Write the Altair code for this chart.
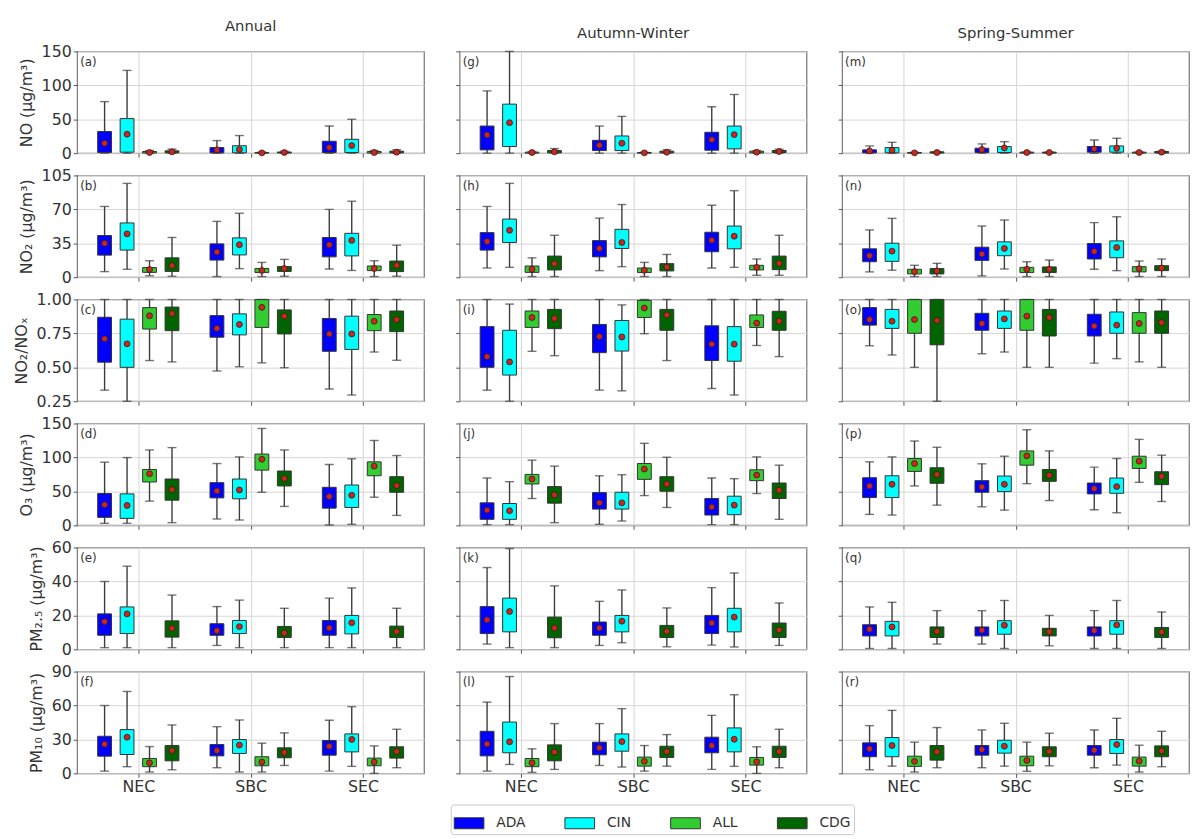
import altair as alt
import pandas as pd

FONT = "DejaVu Sans"

seasons = ["Annual", "Autumn-Winter", "Spring-Summer"]
regions = ["NEC", "SBC", "SEC"]
stations = ["ADA", "CIN", "ALL", "CDG"]
station_colors = ["#0000ff", "#00ffff", "#32cd32", "#006400"]
station_offsets = [-0.3, -0.1, 0.1, 0.3]

y_titles = ["NO (µg/m³)", "NO₂ (µg/m³)", "NO₂/NOₓ", "O₃ (µg/m³)", "PM₂.₅ (µg/m³)", "PM₁₀ (µg/m³)"]
y_domains = [[0, 150], [0, 105], [0.25, 1.0], [0, 150], [0, 60], [0, 90]]
y_ticks = [[0, 50, 100, 150], [0, 35, 70, 105], [0.25, 0.5, 0.75, 1.0],
           [0, 50, 100, 150], [0, 20, 40, 60], [0, 30, 60, 90]]
y_formats = ["d", "d", ".2f", "d", "d", "d"]
panel_letters = "abcdefghijklmnopqr"

# each entry: (whisker low, Q1, Q3, whisker high, mean); order NEC ADA,CIN,ALL,CDG, SBC ..., SEC ...
a_no = [
    (0, 1, 32, 76, 14.6), (0, 1.5, 51, 122, 28), (0, 0.3, 2.5, 4, 1.0), (0, 0.5, 3.5, 6, 2.0),
    (0, 0.5, 8.3, 18.6, 5.0), (0, 0.5, 11, 26, 5.4), (0, 0.1, 1, 1.8, 0.5), (0, 0.3, 1.8, 3, 1.0),
    (0, 1, 17.6, 40, 8.3), (0, 1, 20.5, 50, 11.2), (0, 0.3, 2.5, 4, 1.0), (0, 0.5, 3, 5, 1.5),
]
b_no2 = [
    (5.8, 22.8, 43, 73, 35), (8.2, 28, 56, 96.8, 44.7), (1.5, 5, 10, 17, 8), (1, 6, 20, 41, 12),
    (0.7, 17.7, 34.4, 57.6, 26), (8.9, 23, 40.6, 66, 33.5), (0.7, 4.8, 9, 15.3, 7), (1, 6, 11, 18.4, 9),
    (8.5, 21, 41, 70, 33.5), (7, 22, 45.3, 78.4, 38), (0.7, 6.8, 11.6, 17, 9), (1, 5.8, 16.7, 33, 12.3),
]
c_ratio = [
    (0.332, 0.538, 0.869, 1.0, 0.71), (0.25, 0.50, 0.855, 1.0, 0.673), (0.55, 0.782, 0.94, 1.0, 0.88), (0.54, 0.77, 0.944, 1.0, 0.896),
    (0.473, 0.722, 0.881, 1.0, 0.787), (0.504, 0.739, 0.894, 1.0, 0.816), (0.533, 0.794, 1.0, 1.0, 0.942), (0.497, 0.746, 0.923, 1.0, 0.877),
    (0.34, 0.618, 0.86, 1.0, 0.746), (0.296, 0.632, 0.877, 1.0, 0.746), (0.613, 0.77, 0.889, 1.0, 0.84), (0.552, 0.763, 0.915, 1.0, 0.852),
]
d_o3 = [
    (2.9, 11.7, 46.8, 93, 30.2), (2.9, 10.2, 46.3, 99.8, 29.2), (35.6, 63.8, 82.3, 111, 76), (3.9, 37, 68.2, 114.5, 52.6),
    (9.3, 40.4, 62.8, 91, 50.7), (7.8, 39, 68.2, 100.8, 52), (48.7, 81.3, 105, 142.7, 97.4), (27.8, 58, 80, 111, 69),
    (0.5, 25.3, 56, 89.6, 42.4), (1.5, 26.3, 59.4, 98, 44.3), (41.4, 73, 93.5, 125, 87.2), (14.6, 48.7, 71.6, 102.8, 58.5),
]
e_pm25 = [
    (1, 8.3, 20.9, 40, 16.3), (1, 9.3, 25, 49, 20.9), None, (1, 7.2, 16.8, 32, 12.4),
    (2.3, 8.3, 15.1, 25.2, 11), (1, 9.3, 17, 29, 13.4), None, (1, 7, 13.5, 24.2, 9.7),
    (1, 8.3, 17, 30.2, 12.6), (1, 9.1, 20, 36.2, 15.7), None, (1, 7, 13.7, 24.2, 10.5),
]
f_pm10 = [
    (2, 15.2, 32.8, 60, 25.8), (5.9, 16.7, 38.7, 72.4, 32), (1.2, 5.9, 13.2, 23.7, 9.4), (3.2, 11.1, 24.6, 42.8, 20.2),
    (5, 15.5, 25.5, 41.3, 20.2), (1.2, 17.6, 29.9, 47.2, 25), (1.2, 6.7, 14.7, 26.7, 10), (7, 13.8, 22.6, 35.8, 18.5),
    (2, 16.1, 29, 47, 24), (6.2, 19, 34.9, 59, 30), (0, 6.7, 13.5, 24.3, 10), (5, 13.5, 23.5, 39, 19.4),
]
g_no = [
    (0, 4.9, 40, 91.8, 26.9), (0, 9.8, 72.3, 150, 45), (0, 0.2, 1.5, 2.5, 1.0), (0, 0.5, 3.9, 6.8, 2.0),
    (0, 3.9, 19, 40, 11.7), (0, 3.9, 25.4, 54.2, 14.7), (0, 0.1, 1, 1.5, 0.5), (0, 0.5, 3, 4.9, 1.5),
    (0, 4.4, 30.8, 68.4, 20), (0, 6.4, 40, 86.5, 27.4), (0, 0.5, 3, 3.9, 1.5), (0, 1, 4, 5.9, 2.5),
]
h_no2 = [
    (9.5, 28, 46, 73, 36.8), (10.2, 35.8, 60, 96.8, 48.4), (0.7, 5, 11.6, 20, 8.2), (0.7, 7.5, 21.8, 43.3, 14),
    (6.8, 21, 37.8, 61, 29.7), (10.9, 29.7, 49.4, 75, 35.8), (0.7, 4.8, 9.5, 15.3, 7.2), (0.7, 6.5, 14, 23.5, 10.6),
    (9.5, 26.3, 46.4, 74.3, 38.2), (10.2, 29.3, 52.8, 89.3, 42.3), (2, 7.5, 12.3, 18.8, 10.2), (2, 7.8, 21.8, 43.3, 14.3),
]
i_ratio = [
    (0.332, 0.50, 0.80, 1.0, 0.579), (0.25, 0.443, 0.773, 0.966, 0.54), (0.618, 0.794, 0.915, 1.0, 0.867), (0.586, 0.785, 0.927, 1.0, 0.86),
    (0.332, 0.608, 0.816, 1.0, 0.727), (0.327, 0.62, 0.845, 0.96, 0.724), (0.748, 0.867, 0.993, 1.0, 0.937), (0.55, 0.773, 0.927, 1.0, 0.886),
    (0.344, 0.55, 0.806, 1.0, 0.671), (0.296, 0.545, 0.80, 1.0, 0.671), (0.661, 0.794, 0.886, 1.0, 0.826), (0.579, 0.773, 0.913, 1.0, 0.84),
]
j_o3 = [
    (1, 8.8, 33.1, 69.7, 22.4), (1, 8.8, 32.1, 64.3, 21.4), (39.5, 60.9, 75, 96, 68.2), (3.9, 32.6, 57, 87.2, 44.8),
    (1.5, 23.9, 48.2, 73, 33.1), (6.3, 23.9, 48.7, 74.5, 33.1), (43.8, 67.7, 91, 120.8, 82.8), (26.3, 50.2, 71.6, 100.3, 60.9),
    (1, 15.1, 39.5, 69.7, 26.8), (1, 15.6, 42.9, 68.7, 29.7), (46.8, 65.8, 81.8, 100.8, 74), (8.8, 39.5, 62.3, 88.6, 51.6),
]
k_pm25 = [
    (3.1, 9.3, 25.2, 48.2, 17.4), (1, 10.3, 30.2, 59.4, 22.3), None, (1, 6.8, 19, 37.4, 12.6),
    (2.3, 8.3, 16.1, 28.3, 12.6), (3.9, 10.3, 20, 35, 16.6), None, (1.5, 7, 14.1, 24.4, 10.6),
    (2.5, 9.3, 20, 36.4, 15.5), (1.4, 10.3, 24.2, 45, 19), None, (2.3, 7, 15.5, 27.3, 11.4),
]
l_pm10 = [
    (2, 15.5, 37.2, 63, 26), (7.9, 18.2, 45.4, 85.6, 27.9), (0.9, 5.9, 13.2, 21.7, 9.4), (3.5, 11.1, 25.2, 44, 18.8),
    (7, 16.4, 27.6, 44, 22.6), (5.6, 19.6, 34.9, 57.2, 28.1), (2, 6.4, 14.4, 24.6, 10.6), (6.4, 14.1, 24, 34.3, 19.3),
    (3.5, 18.2, 32, 51.3, 24.6), (6.2, 19, 40.2, 69.5, 30.2), (0, 7.3, 14.1, 23.5, 10.3), (5, 14.1, 24, 39, 19.3),
]
m_no = [
    (0, 0.5, 4.9, 10.7, 3.4), (0, 0.5, 8.3, 16, 4.4), (0, 0.1, 1, 1.5, 0.5), (0, 0.3, 2, 2.4, 1.0),
    (0, 1, 7.3, 13.7, 5.4), (0, 1, 9.8, 17, 7.8), (0, 0.2, 1.5, 2, 1.0), (0, 0.2, 1.5, 2, 1.0),
    (0, 1.5, 9.8, 19.5, 6.4), (0, 1.5, 10.7, 22, 7.3), (0, 0.2, 1.5, 2, 1.0), (0, 0.3, 2.5, 3, 1.5),
]
n_no2 = [
    (5.5, 16, 29.3, 48.8, 22.2), (7.2, 16.4, 35.1, 60.7, 26.9), (0.7, 3.4, 8.2, 12.3, 5.8), (0.7, 3.4, 8.9, 14.3, 6.5),
    (1.4, 17.4, 31, 52.8, 23.9), (8.5, 22.2, 36.5, 59, 29.7), (0.7, 4.8, 10.2, 16, 8.2), (0.7, 4.8, 10.6, 17.7, 8.2),
    (8.2, 18.8, 34.8, 56.3, 26.6), (6.8, 20.1, 37.5, 62.4, 30.7), (0.7, 5.5, 10.9, 16.7, 8.9), (0.7, 6.8, 11.9, 18.8, 9.5),
]
o_ratio = [
    (0.659, 0.811, 0.94, 1.0, 0.852), (0.591, 0.787, 0.927, 1.0, 0.84), (0.50, 0.751, 1.0, 1.0, 0.852), (0.25, 0.666, 1.0, 1.0, 0.845),
    (0.60, 0.773, 0.898, 1.0, 0.823), (0.613, 0.787, 0.915, 1.0, 0.857), (0.50, 0.773, 1.0, 1.0, 0.877), (0.50, 0.731, 0.927, 1.0, 0.867),
    (0.531, 0.731, 0.891, 1.0, 0.804), (0.564, 0.751, 0.908, 1.0, 0.811), (0.54, 0.751, 0.903, 1.0, 0.823), (0.50, 0.751, 0.915, 1.0, 0.83),
]
p_o3 = [
    (16.1, 40.9, 70.1, 93.5, 58), (15.1, 40.9, 73, 100.8, 60.4), (58, 79.4, 98.4, 124.2, 91), (29.7, 61.9, 84.8, 115, 75),
    (27.3, 48.7, 65.8, 90.6, 56.5), (22.4, 49.7, 72.6, 101.8, 60.4), (61.4, 88.6, 109.6, 140.8, 102.3), (36.5, 64.8, 82.3, 109.6, 73.6),
    (22.9, 46.3, 62.3, 85.7, 54.1), (18.5, 47.2, 69.7, 98.4, 57), (63.3, 83.8, 101.8, 126.6, 94.5), (35.1, 59.9, 78.9, 103.3, 72.1),
]
q_pm25 = [
    (0.5, 7.9, 14.5, 25, 11.8), (0.5, 7.9, 16.5, 27.7, 13.2), None, (3.1, 7, 13.2, 22.8, 10.6),
    (3.1, 7.9, 13.2, 22.8, 11.3), (0.5, 8.9, 16.9, 28.8, 14.2), None, (2.1, 7.9, 12.4, 20, 10.4),
    (0.5, 7.9, 13.2, 22.8, 11.1), (0.5, 8.9, 16.9, 28.8, 14.4), None, (0.5, 7, 12.9, 22, 10.2),
]
r_pm10 = [
    (3.2, 14.7, 27, 42.2, 21.7), (6.4, 14.7, 31.7, 55.7, 24.6), (1.2, 6.2, 15.2, 27.6, 10.6), (5, 11.7, 24.6, 40.5, 19.1),
    (5, 16.1, 24.6, 38.4, 21.1), (6.4, 17.9, 29.3, 44.3, 24), (1.8, 6.7, 15.2, 27.6, 11.4), (6.7, 14.7, 23.5, 35.5, 19.3),
    (5, 16.1, 24.6, 38.4, 20.5), (7.3, 17.6, 29.9, 48.7, 25.5), (1.2, 6.4, 14.4, 24.9, 10.8), (5.9, 14.7, 24.3, 37.2, 19.9),
]

season_panels = [
    [a_no, b_no2, c_ratio, d_o3, e_pm25, f_pm10],
    [g_no, h_no2, i_ratio, j_o3, k_pm25, l_pm10],
    [m_no, n_no2, o_ratio, p_o3, q_pm25, r_pm10],
]


def panel_df(stats):
    rows = []
    for k, s in enumerate(stats):
        if s is None:
            continue
        lo, q1, q3, hi, mn = s
        rows.append(dict(region=regions[k // 4], station=stations[k % 4],
                         pos=(k // 4) + 1 + station_offsets[k % 4],
                         lo=lo, q1=q1, q3=q3, hi=hi, mean=mn))
    return pd.DataFrame(rows)


label_expr = "[" + ",".join("'%s'" % r for r in regions) + "][datum.value - 1]"

legend = alt.Legend(
    orient="none", legendX=378, legendY=762, direction="horizontal", columns=4,
    title=None, symbolType="M-1,-0.37H1V0.37H-1Z", symbolSize=900,
    symbolStrokeColor="#333", symbolStrokeWidth=1, symbolOpacity=1,
    labelFontSize=14, labelFont=FONT, labelColor="#333", labelOffset=12,
    columnPadding=37, padding=3, strokeColor="#c8c8c8", cornerRadius=3,
    fillColor="white",
)

WHISK = "#3c3c3c"
PW, PH = 351, 103


def make_panel(si, vi):
    df = panel_df(season_panels[si][vi])
    letter = panel_letters[si * 6 + vi]
    first_col = si == 0
    last_row = vi == 5

    def X():
        return alt.X("pos:Q", title=None,
                     scale=alt.Scale(domain=[0.5, 3.5], nice=False, zero=False),
                     axis=alt.Axis(values=[1, 2, 3], labelExpr=label_expr, labels=last_row,
                                   ticks=True, tickSize=4, grid=True, domain=False,
                                   labelFontSize=16, labelPadding=1))

    def Y(field):
        kw = dict(scale=alt.Scale(domain=y_domains[vi], nice=False, zero=False),
                  axis=alt.Axis(values=y_ticks[vi], labels=first_col, format=y_formats[vi],
                                ticks=True, tickSize=4, grid=True, domain=False,
                                labelFontSize=16, labelPadding=2, titleFontSize=16,
                                titlePadding=7))
        if first_col:
            return alt.Y(field + ":Q", title=y_titles[vi], **kw)
        return alt.Y(field + ":Q", title=None, **kw)

    base = alt.Chart(df)
    whisker = base.mark_rule(color=WHISK, strokeWidth=1.4).encode(x=X(), y=Y("lo"), y2="hi")
    box = base.mark_bar(size=14, stroke="#333", strokeWidth=1, opacity=1).encode(
        x=X(), y=Y("q1"), y2="q3",
        color=alt.Color("station:N", scale=alt.Scale(domain=stations, range=station_colors),
                        legend=legend))
    cap_hi = base.mark_tick(orient="horizontal", size=9, thickness=1.4, color=WHISK).encode(x=X(), y=Y("hi"))
    cap_lo = base.mark_tick(orient="horizontal", size=9, thickness=1.4, color=WHISK).encode(x=X(), y=Y("lo"))
    mean = base.mark_circle(size=36, color="#c8281f", stroke="#3a1a1a", strokeWidth=0.8, opacity=1).encode(
        x=X(), y=Y("mean"))
    lab = alt.Chart(pd.DataFrame({"lab": ["(%s)" % letter]})).mark_text(
        align="left", baseline="top", fontSize=12, font=FONT, color="#333"
    ).encode(x=alt.value(3), y=alt.value(6), text="lab:N")

    layer = alt.layer(whisker, box, cap_hi, cap_lo, mean, lab).properties(width=PW, height=PH)
    if vi == 0:
        layer = layer.properties(title=alt.TitleParams(
            seasons[si], fontSize=15, fontWeight="normal", font=FONT, color="#333", offset=10))
    return layer


charts = []
for vi in range(6):
    for si in range(3):
        charts.append(make_panel(si, vi))

chart = alt.concat(*charts, columns=3, spacing={"row": 4.5, "column": 29}, align="each").resolve_scale(
    x="independent", y="independent", color="shared"
).properties(
    padding={"left": 4, "top": 5, "right": 4, "bottom": 0}, background="white"
).configure(font=FONT).configure_view(
    stroke="#7f7f7f", strokeWidth=1.3
).configure_axis(
    labelFont=FONT, titleFont=FONT, labelColor="#333", titleColor="#333",
    titleFontWeight="normal", gridColor="#d6d6d6", gridWidth=1, tickColor="#555"
)

chart.save("out.html", embed_options={"renderer": "svg", "actions": False})
